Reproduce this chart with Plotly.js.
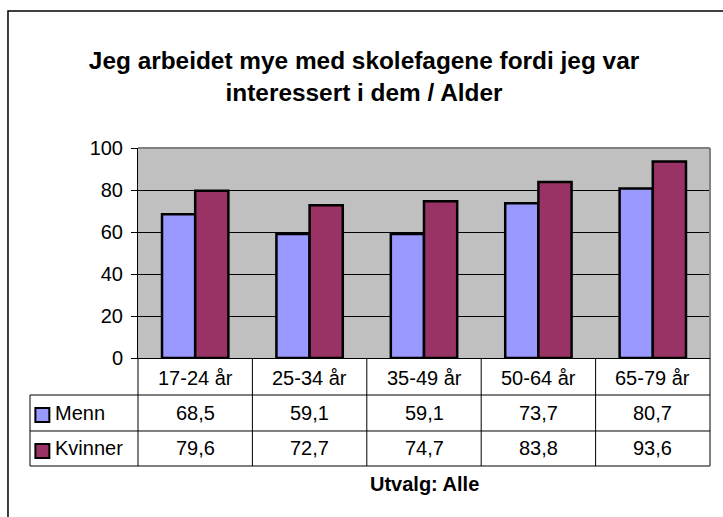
<!DOCTYPE html>
<html>
<head>
<meta charset="utf-8">
<script src="https://cdn.plot.ly/plotly-3.0.1.min.js"></script>
<style>html,body{margin:0;padding:0;background:#fff;}#chart{width:723px;height:517px;}</style>
</head>
<body>
<div id="chart"></div>
<script>
// ---- data ----
var categories = ["17-24 år", "25-34 år", "35-49 år", "50-64 år", "65-79 år"];
var seriesNames = ["Menn", "Kvinner"];
var menn = [68.5, 59.1, 59.1, 73.7, 80.7];
var kvinner = [79.6, 72.7, 74.7, 83.8, 93.6];
var tableLabels = ["68,5", "59,1", "59,1", "73,7", "80,7"];
var tableLabels2 = ["79,6", "72,7", "74,7", "83,8", "93,6"];
var yTicks = [0, 20, 40, 60, 80, 100];
var titleText = "Jeg arbeidet mye med skolefagene fordi jeg var<br>interessert i dem / Alder";
var footText = "Utvalg: Alle";

var colors = ["#9999FF", "#993366"];
var FONT = "Arial, 'Liberation Sans', sans-serif";

var traces = [
  {type: "bar", name: seriesNames[0], x: categories, y: menn,
   marker: {color: colors[0], line: {color: "#000", width: 2.5}}, hoverinfo: "x+y"},
  {type: "bar", name: seriesNames[1], x: categories, y: kvinner,
   marker: {color: colors[1], line: {color: "#000", width: 2.5}}, hoverinfo: "x+y"}
];

// table geometry (paper coords relative to plot area)
var tblLeft = -0.1888;
var rowHead = -0.1762, rowMenn = -0.3476, rowKv = -0.5143;
var lineK = {color: "#000", width: 1};

var shapes = [];
// outer chart border
shapes.push({type: "rect", xref: "paper", yref: "paper", x0: -0.2273, x1: 1.04, y0: -0.85, y1: 1.6524,
  line: {color: "#000", width: 1.5}, fillcolor: "rgba(0,0,0,0)", layer: "below"});
// plot area top/right border (gray)
shapes.push({type: "line", xref: "paper", yref: "paper", x0: 0, x1: 1, y0: 1, y1: 1, line: {color: "#808080", width: 2}});
shapes.push({type: "line", xref: "paper", yref: "paper", x0: 1, x1: 1, y0: 0, y1: 1, line: {color: "#808080", width: 2}});
// table vertical lines
shapes.push({type: "line", xref: "paper", yref: "paper", x0: 0, x1: 0, y0: 0, y1: rowKv, line: lineK});
shapes.push({type: "line", xref: "paper", yref: "paper", x0: 1, x1: 1, y0: 0, y1: rowKv, line: lineK});
for (var i = 0; i < categories.length - 1; i++) {
  shapes.push({type: "line", xref: "x", yref: "paper", x0: i + 0.5, x1: i + 0.5, y0: 0, y1: rowKv, line: lineK});
}
shapes.push({type: "line", xref: "paper", yref: "paper", x0: tblLeft, x1: tblLeft, y0: rowHead, y1: rowKv, line: lineK});
[rowHead, rowMenn, rowKv].forEach(function (yy) {
  shapes.push({type: "line", xref: "paper", yref: "paper", x0: tblLeft, x1: 1, y0: yy, y1: yy, line: lineK});
});
// legend keys
var keyCx = -0.1672, keyHw = 0.0122, keyHh = 0.0333;
var keyCy = [-0.2714, -0.4429];
for (var s = 0; s < 2; s++) {
  shapes.push({type: "rect", xref: "paper", yref: "paper", x0: keyCx - keyHw, x1: keyCx + keyHw,
    y0: keyCy[s] - keyHh, y1: keyCy[s] + keyHh, fillcolor: colors[s], line: {color: "#000", width: 2}});
}

var annotations = [];
var tf = {family: FONT, size: 20, color: "#000"};
var headY = -0.0952, mennY = -0.262, kvY = -0.4286;
categories.forEach(function (c, k) {
  annotations.push({xref: "x", yref: "paper", x: c, y: headY, text: c, showarrow: false, font: tf, xanchor: "center", yanchor: "middle"});
  annotations.push({xref: "x", yref: "paper", x: c, y: mennY, text: tableLabels[k], showarrow: false, font: tf, xanchor: "center", yanchor: "middle"});
  annotations.push({xref: "x", yref: "paper", x: c, y: kvY, text: tableLabels2[k], showarrow: false, font: tf, xanchor: "center", yanchor: "middle"});
});
annotations.push({xref: "paper", yref: "paper", x: -0.1485, y: mennY, text: seriesNames[0], showarrow: false, font: tf, xanchor: "left", yanchor: "middle"});
annotations.push({xref: "paper", yref: "paper", x: -0.1485, y: kvY, text: seriesNames[1], showarrow: false, font: tf, xanchor: "left", yanchor: "middle"});
annotations.push({xref: "paper", yref: "paper", x: 0.5, y: -0.602, text: "<b>" + footText + "</b>", showarrow: false,
  font: {family: FONT, size: 20, color: "#000"}, xanchor: "center", yanchor: "middle"});

var layout = {
  width: 723, height: 517,
  margin: {l: 138, r: 13, t: 148, b: 159, pad: 0},
  paper_bgcolor: "#fff", plot_bgcolor: "#C0C0C0",
  showlegend: false,
  barmode: "group", bargap: 0.42, bargroupgap: 0,
  title: {text: "<b>" + titleText + "</b>", font: {family: FONT, size: 24.4, color: "#000"},
    x: 0.5035, xref: "container", xanchor: "center", y: 0.8660, yref: "container", yanchor: "middle"},
  xaxis: {type: "category", categoryarray: categories, categoryorder: "array", range: [-0.5, 4.5],
    showticklabels: false, ticks: "", showgrid: false, zeroline: false,
    showline: true, linecolor: "#000", linewidth: 1, fixedrange: true},
  yaxis: {range: [0, 100], tickvals: yTicks, ticktext: yTicks.map(String), ticks: "outside", ticklen: 6, tickcolor: "#000", tickwidth: 1,
    showline: true, linecolor: "#000", linewidth: 1, showgrid: true, gridcolor: "#000", gridwidth: 1,
    zeroline: false, tickfont: {family: FONT, size: 20, color: "#000"}, ticklabelstandoff: 4, fixedrange: true},
  shapes: shapes,
  annotations: annotations
};

Plotly.newPlot("chart", traces, layout, {displayModeBar: false, staticPlot: true});
</script>
</body>
</html>
